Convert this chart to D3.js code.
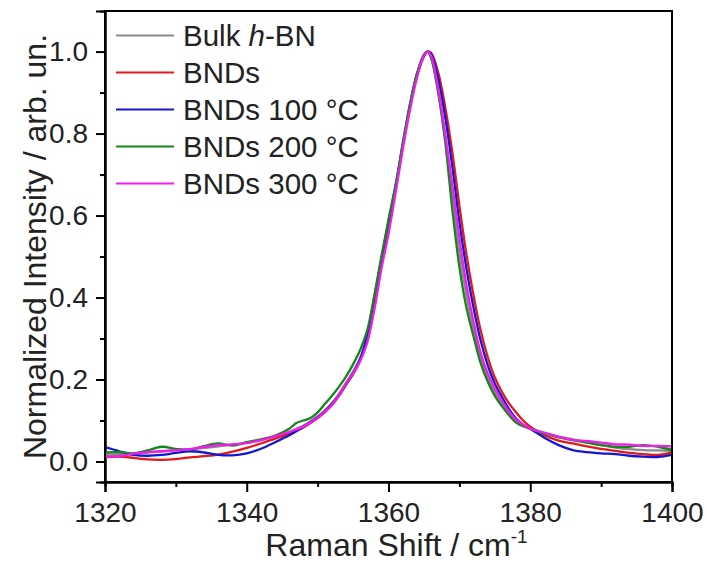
<!DOCTYPE html>
<html>
<head>
	<meta charset="utf-8">
	<title>Raman</title>
	<style type="text/css">
		body {
			margin: 0;
			background-color: #fff;
		}
		svg {
			font-family: 'Liberation Sans', Arial, sans-serif;
		}
		.axis path, .axis line {
			stroke: #000;
			stroke-width: 2px;
		}
		.axis text {
			font-size: 28px;
			fill: #222;
		}
		.legendText {
			font-size: 29.5px;
			fill: #222;
		}
		.title {
			font-size: 32px;
			fill: #222;
		}
		.curve {
			fill: none;
			stroke-width: 2.3px;
		}
	</style>
	<script type="text/javascript" src="https://cdn.jsdelivr.net/npm/d3@7"></script>
</head>
<body>
	<div id="chart"></div>
	<script type="text/javascript">
		// Raman shift (cm-1) sample positions
		var shift = [1320,1322,1324,1326,1328,1330,1332,1334,1336,1338,1340,1342,1344,1346,1347,1348,1349,1350,1351,1352,1353,1354,1355,1356,1357,1358,1359,1360,1361,1362,1363,1364,1365,1365.5,1366,1367,1368,1369,1370,1371,1372,1373,1374,1375,1376,1377,1378,1379,1380,1382,1384,1386,1388,1390,1392,1394,1396,1398,1400];

		var bulkHBN = [0.016,0.018,0.020,0.022,0.025,0.028,0.030,0.033,0.037,0.041,0.046,0.053,0.062,0.072,0.080,0.088,0.098,0.110,0.125,0.142,0.165,0.192,0.220,0.252,0.300,0.385,0.485,0.570,0.665,0.768,0.862,0.940,0.990,1.000,0.988,0.905,0.790,0.650,0.510,0.405,0.322,0.255,0.205,0.168,0.140,0.116,0.097,0.087,0.081,0.070,0.061,0.054,0.047,0.040,0.034,0.030,0.028,0.027,0.026];

		var bnds = [0.011,0.012,0.009,0.005,0.004,0.006,0.010,0.013,0.017,0.024,0.033,0.044,0.056,0.068,0.075,0.083,0.094,0.106,0.120,0.137,0.160,0.187,0.213,0.247,0.300,0.385,0.485,0.570,0.665,0.768,0.862,0.940,0.988,1.000,0.997,0.950,0.865,0.755,0.625,0.505,0.405,0.320,0.255,0.205,0.170,0.142,0.120,0.100,0.085,0.064,0.051,0.044,0.037,0.031,0.026,0.021,0.018,0.016,0.022];

		var bnds100 = [0.035,0.025,0.016,0.014,0.016,0.021,0.025,0.022,0.016,0.015,0.020,0.031,0.047,0.064,0.074,0.085,0.096,0.108,0.122,0.140,0.162,0.188,0.215,0.250,0.310,0.400,0.495,0.585,0.672,0.772,0.868,0.945,0.990,1.000,0.995,0.935,0.840,0.720,0.585,0.470,0.375,0.295,0.235,0.190,0.158,0.128,0.105,0.090,0.080,0.058,0.040,0.028,0.023,0.020,0.018,0.014,0.012,0.011,0.016];

		var bnds200 = [0.022,0.023,0.020,0.027,0.036,0.031,0.029,0.038,0.044,0.039,0.047,0.054,0.063,0.080,0.094,0.100,0.106,0.120,0.140,0.160,0.182,0.207,0.237,0.272,0.320,0.405,0.500,0.590,0.675,0.775,0.870,0.945,0.993,1.000,0.985,0.900,0.780,0.615,0.475,0.375,0.305,0.240,0.195,0.160,0.135,0.113,0.095,0.086,0.080,0.068,0.059,0.052,0.046,0.040,0.036,0.036,0.040,0.036,0.028];

		var bnds300 = [0.012,0.013,0.019,0.023,0.025,0.027,0.030,0.036,0.040,0.042,0.045,0.052,0.062,0.072,0.078,0.085,0.095,0.107,0.121,0.138,0.162,0.190,0.215,0.245,0.290,0.370,0.470,0.555,0.655,0.760,0.855,0.935,0.990,1.000,0.990,0.910,0.800,0.675,0.545,0.430,0.340,0.265,0.215,0.178,0.148,0.122,0.102,0.090,0.080,0.070,0.060,0.053,0.050,0.046,0.042,0.041,0.038,0.038,0.037];

		var seriesNames = ['Bulk h-BN', 'BNDs', 'BNDs 100 °C', 'BNDs 200 °C', 'BNDs 300 °C'];
		var seriesValues = [bulkHBN, bnds, bnds100, bnds200, bnds300];
		var seriesColors = ['#8a8a8a', '#e3191c', '#1616d2', '#15871a', '#f01cf0'];

		var xTicks = [1320, 1340, 1360, 1380, 1400];
		var yTicks = [0.0, 0.2, 0.4, 0.6, 0.8, 1.0];

		var width = 707, height = 563;
		var plotLeft = 105, plotRight = 672, plotTop = 11, plotBottom = 482;

		var svg = d3.select('#chart')
			.append('svg')
			.attr('width', width)
			.attr('height', height);

		var xScale = d3.scaleLinear()
			.domain([1320, 1400])
			.range([plotLeft, plotRight]);

		var yScale = d3.scaleLinear()
			.domain([-0.05, 1.099])
			.range([plotBottom, plotTop]);

		// minor ticks first, then major ticks with labels
		svg.append('g')
			.attr('class', 'axis')
			.attr('transform', 'translate(0,' + plotBottom + ')')
			.call(d3.axisBottom(xScale).tickValues(d3.range(1330, 1400, 20)).tickSize(5).tickFormat(''));

		svg.append('g')
			.attr('class', 'axis')
			.attr('transform', 'translate(' + plotLeft + ',0)')
			.call(d3.axisLeft(yScale).tickValues([0.1, 0.3, 0.5, 0.7, 0.9]).tickSize(5).tickFormat(''));

		svg.append('g')
			.attr('class', 'axis')
			.attr('transform', 'translate(0,' + plotBottom + ')')
			.call(d3.axisBottom(xScale).tickValues(xTicks).tickSize(10).tickPadding(10).tickFormat(d3.format('d')));

		svg.append('g')
			.attr('class', 'axis')
			.attr('transform', 'translate(' + plotLeft + ',0)')
			.call(d3.axisLeft(yScale).tickValues(yTicks).tickSize(9).tickPadding(8).tickFormat(d3.format('.1f')));

		svg.selectAll('.axis').attr('font-size', null).attr('font-family', null);

		var line = d3.line()
			.x(function(d){ return xScale(d[0]); })
			.y(function(d){ return yScale(d[1]); })
			.curve(d3.curveCatmullRom.alpha(0.5));

		svg.append('defs').append('clipPath')
			.attr('id', 'plotClip')
			.append('rect')
			.attr('x', plotLeft).attr('y', plotTop)
			.attr('width', plotRight - plotLeft).attr('height', plotBottom - plotTop);

		svg.append('g')
			.attr('clip-path', 'url(#plotClip)')
			.selectAll('.curve')
			.data(seriesValues)
			.enter()
			.append('path')
			.attr('class', 'curve')
			.attr('stroke', function(d, i){ return seriesColors[i]; })
			.attr('d', function(d){
				return line(shift.map(function(s, j){ return [s, d[j]]; }));
			});

		// frame
		svg.append('rect')
			.attr('x', plotLeft).attr('y', plotTop)
			.attr('width', plotRight - plotLeft).attr('height', plotBottom - plotTop)
			.attr('fill', 'none')
			.attr('stroke', '#000')
			.attr('stroke-width', 2);

		// legend
		var legend = svg.append('g');
		seriesNames.forEach(function(name, i){
			var yy = 35.5 + i * 37;
			legend.append('line')
				.attr('x1', 116).attr('x2', 174)
				.attr('y1', yy).attr('y2', yy)
				.attr('stroke', seriesColors[i])
				.attr('stroke-width', 2);
			var t = legend.append('text')
				.attr('class', 'legendText')
				.attr('x', 183)
				.attr('y', yy + 10.5);
			if (i === 0) {
				t.append('tspan').text('Bulk ');
				t.append('tspan').attr('font-style', 'italic').text('h');
				t.append('tspan').text('-BN');
			} else {
				t.text(name);
			}
		});

		// axis titles
		var xTitle = svg.append('text')
			.attr('class', 'title')
			.attr('x', (plotLeft + plotRight) / 2 + 8)
			.attr('y', 556)
			.attr('text-anchor', 'middle');
		xTitle.append('tspan').text('Raman Shift / cm');
		xTitle.append('tspan').attr('font-size', '19px').attr('dy', -13).text('-1');

		svg.append('text')
			.attr('class', 'title')
			.attr('transform', 'translate(46,' + ((plotTop + plotBottom) / 2) + ') rotate(-90)')
			.attr('text-anchor', 'middle')
			.text('Normalized Intensity / arb. un.');
	</script>
</body>
</html>
